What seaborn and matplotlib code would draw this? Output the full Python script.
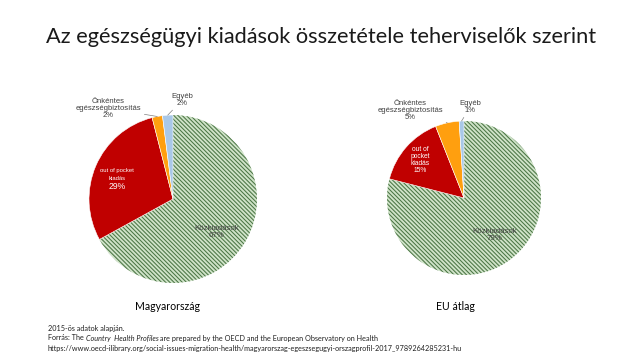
import numpy as np
import matplotlib
matplotlib.use('Agg')
import matplotlib.pyplot as plt
import seaborn as sns

# Adatok (2015)
kategoriak = ['Közkiadások', 'out of pocket kiadás', 'Önkéntes egészségbiztosítás', 'Egyéb']
magyarorszag = [67, 29, 2, 2]
eu_atlag = [79, 15, 5, 1]

cimkek_hu = ['Közkiadások', 'out of pocket\nkiadás', 'Önkéntes\negészségbiztosítás', 'Egyéb']
cimkek_eu = ['Közkiadások', 'out of\npocket\nkiadás', 'Önkéntes\negészségbiztosítás', 'Egyéb']

cim = 'Az egészségügyi kiadások összetétele teherviselők szerint'
lablec_1 = '2015-ös adatok alapján.'
lablec_2 = ['Forrás: The ', 'Country  Health Profiles', ' are prepared by the OECD and the European Observatory on Health']
lablec_3 = 'https://www.oecd-ilibrary.org/social-issues-migration-health/magyarorszag-egeszsegugyi-orszagprofil-2017_9789264285231-hu'

# Stílus
sns.set_theme(style='white')
plt.rcParams['font.family'] = ['Liberation Sans', 'DejaVu Sans']
plt.rcParams['hatch.linewidth'] = 0.75

szinek = ['#CFE3C8', '#C00000', '#FF9F0F', '#A9C8E8']
csik_szin = '#4A7544'
szoveg_szin = '#404040'

fig = plt.figure(figsize=(6.4, 3.6), dpi=100)
fig.patch.set_facecolor('white')
W, H = 640, 360


def pie_ax(cx, cy, r):
    return fig.add_axes([(cx - r) / W, (H - cy - r) / H, 2 * r / W, 2 * r / H])


def rajzol(ax, ertekek, cimkek, poz, meret, pct_meret, vezeto):
    wedges, _ = ax.pie(ertekek, colors=szinek, startangle=90, counterclock=False,
                       wedgeprops=dict(edgecolor='white', linewidth=0.4))
    wedges[0].set_hatch('\\' * 8)
    wedges[0].set_edgecolor(csik_szin)
    wedges[0].set_linewidth(0)
    for i, w in enumerate(wedges):
        ang = np.deg2rad((w.theta1 + w.theta2) / 2)
        x, y = poz[i]
        col = 'white' if i == 1 else szoveg_szin
        if pct_meret[i] != meret[i]:
            ax.text(x, y + 0.02, cimkek[i], ha='center', va='bottom', fontsize=meret[i],
                    color=col, linespacing=1.6)
            ax.text(x, y, f'{ertekek[i]}%', ha='center', va='top', fontsize=pct_meret[i], color=col)
        elif vezeto[i]:
            ax.annotate(f'{cimkek[i]}\n{ertekek[i]}%', xy=(np.cos(ang), np.sin(ang)), xytext=(x, y),
                        ha='center', va='center', fontsize=meret[i], color=col, linespacing=1.0,
                        arrowprops=dict(arrowstyle='-', color='#808080', lw=0.5,
                                        shrinkA=0, shrinkB=0))
        else:
            ax.text(x, y, f'{cimkek[i]}\n{ertekek[i]}%', ha='center', va='center',
                    fontsize=meret[i], color=col, linespacing=1.0)
    ax.set_xlim(-1, 1)
    ax.set_ylim(-1, 1)
    ax.set_aspect('equal')
    ax.axis('off')


ax1 = pie_ax(173, 199, 84)
rajzol(ax1, magyarorszag, cimkek_hu,
       [(0.52, -0.39), (-0.67, 0.20), (-0.77, 1.08), (0.11, 1.18)],
       [5.7, 4.2, 5.5, 5.5], [5.7, 6.2, 5.5, 5.5], [False, False, True, True])

ax2 = pie_ax(464, 198, 77)
rajzol(ax2, eu_atlag, cimkek_eu,
       [(0.40, -0.48), (-0.57, 0.49), (-0.70, 1.14), (0.08, 1.18)],
       [5.7, 4.8, 5.5, 5.5], [5.7, 4.8, 5.5, 5.5], [False, False, True, True])

# Címek
fig.text(321 / W, 1 - 37 / H, cim, ha='center', va='center', fontsize=15.7,
         family=['Lato', 'DejaVu Sans'], color='#1a1a1a')
fig.text(167 / W, 1 - 307 / H, 'Magyarország', ha='center', va='center', fontsize=7.6,
         family=['Lato', 'DejaVu Sans'], color='black')
fig.text(455 / W, 1 - 307 / H, 'EU átlag', ha='center', va='center', fontsize=7.6,
         family=['Lato', 'DejaVu Sans'], color='black')

# Lábléc
lf = dict(fontsize=5.2, family=['Lato', 'DejaVu Sans'], color='#202020', va='center', ha='left')
fig.text(48 / W, 1 - 328 / H, lablec_1, **lf)
fig.canvas.draw()
x0 = 48 / W
for j, darab in enumerate(lablec_2):
    t = fig.text(x0, 1 - 338 / H, darab, style='italic' if j == 1 else 'normal', **lf)
    bb = t.get_window_extent(fig.canvas.get_renderer())
    x0 = bb.x1 / W
fig.text(48 / W, 1 - 349 / H, lablec_3, **lf)

fig.savefig('out.png', dpi=100, facecolor='white')
